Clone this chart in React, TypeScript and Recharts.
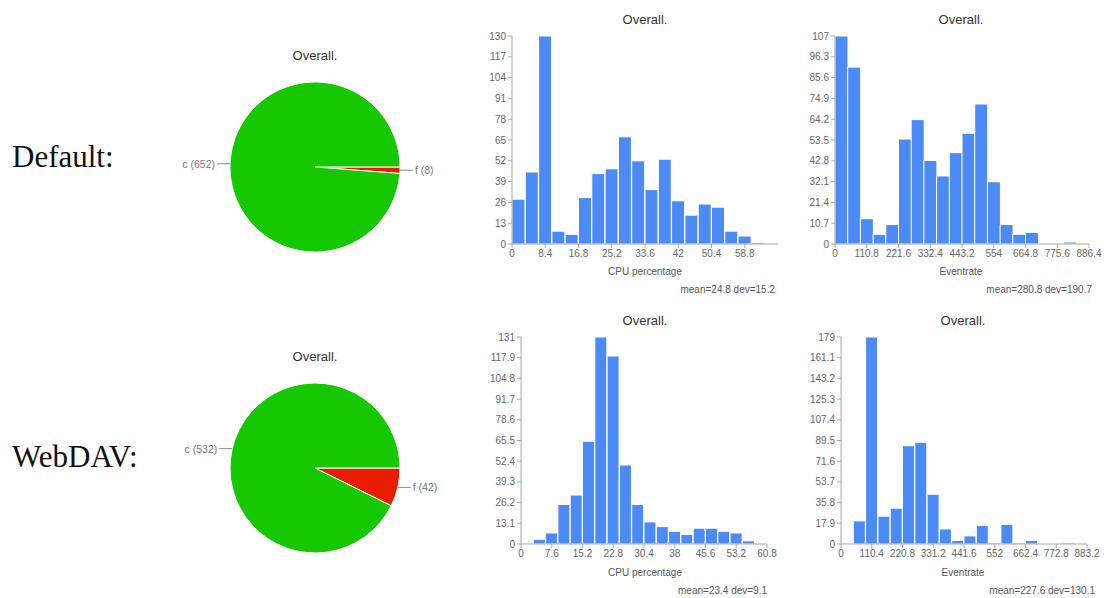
import { BarChart, Bar, XAxis, YAxis, PieChart, Pie, Cell } from 'recharts';

const SANS = '"Liberation Sans", Arial, Helvetica, sans-serif';
const SERIF = '"Liberation Serif", "Times New Roman", serif';
const BAR = '#4c8bf5';
const AXIS = '#a8a8a8';
const TICK = '#666666';

// pie: outcome counts, f first so it sits just below 3 o'clock
const pieNames = ['f', 'c'];
const pieColors = ['#e81c00', '#16c800'];
const defaultOutcomes = [8, 652];
const webdavOutcomes = [42, 532];

// Default: CPU percentage histogram
const defaultCpuCounts = [28, 45, 130, 8, 6, 29, 44, 47, 67, 52, 34, 53, 27, 18, 25, 23, 8, 5, 1, 0];
const defaultCpuMax = 67.2;
const defaultCpuTicks = [0, 8.4, 16.8, 25.2, 33.6, 42, 50.4, 58.8];
const defaultCpuYTicks = [0, 13, 26, 39, 52, 65, 78, 91, 104, 117, 130];

// Default: Eventrate histogram
const defaultRateCounts = [107, 91, 13, 5, 10, 54, 64, 43, 35, 47, 57, 72, 32, 10, 5, 6, 0, 0, 1, 0];
const defaultRateMax = 886.4;
const defaultRateTicks = [0, 110.8, 221.6, 332.4, 443.2, 554, 664.8, 775.6, 886.4];
const defaultRateYTicks = [0, 10.7, 21.4, 32.1, 42.8, 53.5, 64.2, 74.9, 85.6, 96.3, 107];

// WebDAV: CPU percentage histogram
const webdavCpuCounts = [0, 3, 7, 25, 31, 65, 131, 119, 50, 25, 14, 11, 8, 6, 10, 10, 8, 7, 2, 0];
const webdavCpuMax = 60.8;
const webdavCpuTicks = [0, 7.6, 15.2, 22.8, 30.4, 38, 45.6, 53.2, 60.8];
const webdavCpuYTicks = [0, 13.1, 26.2, 39.3, 52.4, 65.5, 78.6, 91.7, 104.8, 117.9, 131];

// WebDAV: Eventrate histogram
const webdavRateCounts = [0, 20, 179, 24, 31, 85, 88, 43, 13, 3, 7, 16, 1, 17, 1, 3, 0, 0, 1, 0];
const webdavRateMax = 883.2;
const webdavRateTicks = [0, 110.4, 220.8, 331.2, 441.6, 552, 662.4, 772.8, 883.2];
const webdavRateYTicks = [0, 17.9, 35.8, 53.7, 71.6, 89.5, 107.4, 125.3, 143.2, 161.1, 179];

const tickStyle = { fontSize: 10, fill: TICK, fontFamily: SANS };

interface HistProps {
  counts: number[];
  xMax: number;
  xTicks: number[];
  yTicks: number[];
  left: number;
  top: number;
  plotWidth: number;
  plotHeight: number;
}

function Histogram({ counts, xMax, xTicks, yTicks, left, top, plotWidth, plotHeight }: HistProps) {
  const binWidth = xMax / counts.length;
  const data = counts.map((count, i) => ({ x: (i + 0.5) * binWidth, count }));
  return (
    <div style={{ position: 'absolute', left: left - 50, top: top - 10 }}>
      <BarChart
        width={plotWidth + 75}
        height={plotHeight + 40}
        data={data}
        margin={{ top: 10, right: 25, bottom: 0, left: 10 }}
        barCategoryGap={0}
        barGap={0}
      >
        <Bar dataKey="count" fill={BAR} stroke="#ffffff" strokeWidth={1} isAnimationActive={false} />
        <XAxis
          type="number"
          dataKey="x"
          domain={[0, xMax]}
          ticks={xTicks}
          interval={0}
          height={30}
          tick={tickStyle}
          stroke={AXIS}
          tickSize={4}
          allowDataOverflow
        />
        <YAxis
          type="number"
          domain={[0, yTicks[yTicks.length - 1]]}
          ticks={yTicks}
          interval={0}
          width={40}
          tick={tickStyle}
          stroke={AXIS}
          tickSize={4}
        />
      </BarChart>
    </div>
  );
}

const RAD = Math.PI / 180;

function renderPieLabel(props: any) {
  const { cx, cy, midAngle, outerRadius, name, value } = props;
  const cos = Math.cos(-midAngle * RAD);
  const x0 = cx + outerRadius * cos;
  const y0 = cy + outerRadius * Math.sin(-midAngle * RAD);
  const dir = cos >= 0 ? 1 : -1;
  return (
    <g>
      <line x1={x0} y1={y0} x2={x0 + dir * 13} y2={y0} stroke="#888" strokeWidth={1} />
      <text
        x={x0 + dir * 15}
        y={y0}
        textAnchor={dir > 0 ? 'start' : 'end'}
        dominantBaseline="central"
        fontSize={10.5}
        fill="#777"
        fontFamily={SANS}
      >
        {`${name} (${value})`}
      </text>
    </g>
  );
}

function OutcomePie({ values, centerY }: { values: number[]; centerY: number }) {
  const data = pieNames.map((name, i) => ({ name, value: values[i] }));
  return (
    <div style={{ position: 'absolute', left: 170, top: centerY - 130 }}>
      <PieChart width={290} height={260} margin={{ top: 0, right: 0, bottom: 0, left: 0 }}>
        <Pie
          data={data}
          dataKey="value"
          nameKey="name"
          cx={145}
          cy={130}
          outerRadius={85}
          startAngle={0}
          endAngle={-360}
          stroke="#ffffff"
          strokeWidth={1}
          label={renderPieLabel}
          labelLine={false}
          isAnimationActive={false}
        >
          {data.map((d, i) => (
            <Cell key={d.name} fill={pieColors[i]} />
          ))}
        </Pie>
      </PieChart>
    </div>
  );
}

function Caption({ x, y, text, size = 10, anchor = 'middle', color = '#555' }: any) {
  return (
    <text x={x} y={y} textAnchor={anchor} fontSize={size} fill={color} fontFamily={SANS}>
      {text}
    </text>
  );
}

export default function App() {
  return (
    <div style={{ position: 'absolute', left: 0, top: 0, width: 1104, height: 598, background: '#fff', overflow: 'hidden' }}>
      <svg width={1104} height={598} style={{ position: 'absolute', left: 0, top: 0 }}>
        <text x={12} y={167} fontSize={31} fontFamily={SERIF} fill="#111">Default:</text>
        <text x={12} y={467} fontSize={31} fontFamily={SERIF} fill="#111">WebDAV:</text>

        <Caption x={315} y={60} text="Overall." size={13} color="#333" />
        <Caption x={315} y={361} text="Overall." size={13} color="#333" />

        <Caption x={645} y={24} text="Overall." size={13} color="#333" />
        <Caption x={645} y={275} text="CPU percentage" />
        <Caption x={775} y={293} text="mean=24.8 dev=15.2" anchor="end" />

        <Caption x={961} y={24} text="Overall." size={13} color="#333" />
        <Caption x={961} y={275} text="Eventrate" />
        <Caption x={1092} y={293} text="mean=280.8 dev=190.7" anchor="end" />

        <Caption x={645} y={325} text="Overall." size={13} color="#333" />
        <Caption x={645} y={576} text="CPU percentage" />
        <Caption x={767} y={594} text="mean=23.4 dev=9.1" anchor="end" />

        <Caption x={963} y={325} text="Overall." size={13} color="#333" />
        <Caption x={963} y={576} text="Eventrate" />
        <Caption x={1095} y={594} text="mean=227.6 dev=130.1" anchor="end" />
      </svg>

      <OutcomePie values={defaultOutcomes} centerY={167} />
      <OutcomePie values={webdavOutcomes} centerY={468} />

      <Histogram counts={defaultCpuCounts} xMax={defaultCpuMax} xTicks={defaultCpuTicks} yTicks={defaultCpuYTicks}
        left={512} top={36} plotWidth={266} plotHeight={208} />
      <Histogram counts={defaultRateCounts} xMax={defaultRateMax} xTicks={defaultRateTicks} yTicks={defaultRateYTicks}
        left={835} top={36} plotWidth={254} plotHeight={208} />
      <Histogram counts={webdavCpuCounts} xMax={webdavCpuMax} xTicks={webdavCpuTicks} yTicks={webdavCpuYTicks}
        left={521} top={337} plotWidth={246} plotHeight={207} />
      <Histogram counts={webdavRateCounts} xMax={webdavRateMax} xTicks={webdavRateTicks} yTicks={webdavRateYTicks}
        left={841} top={337} plotWidth={246} plotHeight={207} />
    </div>
  );
}
